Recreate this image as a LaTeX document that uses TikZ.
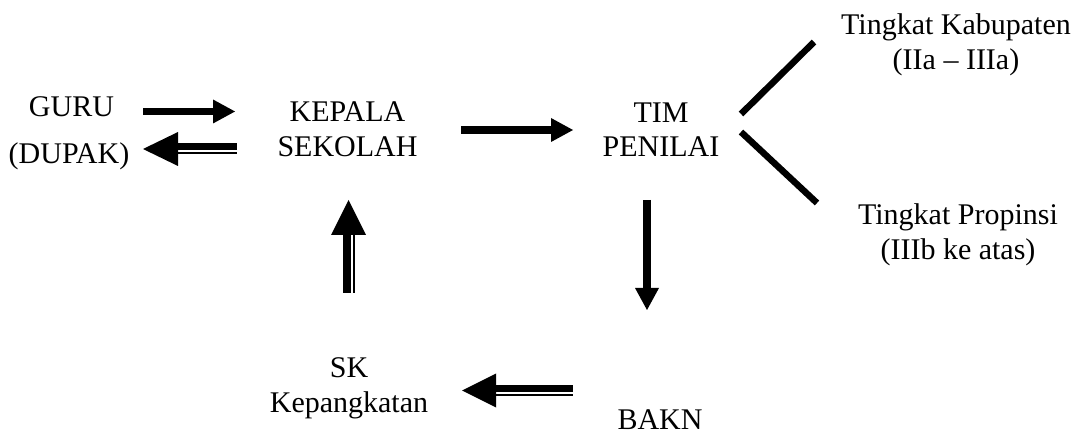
\documentclass[tikz,border=0pt]{standalone}
\usepackage{fontspec}
\setmainfont{Liberation Serif}
\usetikzlibrary{arrows.meta,calc}
\tikzset{
  lbl/.style={inner sep=0pt, anchor=base, align=center, font=\fontsize{30}{34.5}\selectfont},
  bigarrow/.style={line width=7.5pt, -{Triangle[length=22pt,width=24pt,line width=0pt]}},
  thickline/.style={line width=7pt},
  thinline/.style={line width=2pt},
  splitline/.style={line width=6.5pt},
}
\begin{document}
\begin{tikzpicture}[x=1pt,y=-1pt]
\useasboundingbox (0,0) rectangle (1084,435);
% text (base anchor = baseline of last line)
\node[lbl] (guru) at (71.5,117) {GURU};
\node[lbl] (dupak) at (69,164) {(DUPAK)};
\node[lbl] (kepala) at (347.5,156.5) {KEPALA\\SEKOLAH};
\node[lbl] (tim) at (661,157) {TIM\\PENILAI};
\node[lbl] (kab) at (956,69.5) {Tingkat Kabupaten\\(IIa -- IIIa)};
\node[lbl] (prop) at (958,259.5) {Tingkat Propinsi\\(IIIb ke atas)};
\node[lbl] (sk) at (349,412) {SK\\Kepangkatan};
\node[lbl] (bakn) at (660,429) {BAKN};
% GURU -> KEPALA
\coordinate (a1s) at (143,111.5);
\coordinate (a1e) at (235,111.5);
\draw[bigarrow] (a1s) -- (a1e);
% KEPALA -> GURU (double)
\coordinate (a2tip) at (143,149);
\coordinate (a2tail) at (237,149);
\fill (a2tip) -- ($(a2tip)+(35,-17)$) -- ($(a2tip)+(35,17)$) -- cycle;
\draw[thickline] ($(a2tip)+(34,-2.5)$) -- ($(a2tail)+(0,-2.5)$);
\draw[thinline] ($(a2tip)+(34,4)$) -- ($(a2tail)+(0,4)$);
% KEPALA -> TIM
\coordinate (a3s) at (461,130);
\coordinate (a3e) at (573,130);
\draw[bigarrow] (a3s) -- (a3e);
% TIM -> BAKN
\coordinate (a4s) at (647,200);
\coordinate (a4e) at (647,310);
\draw[bigarrow] (a4s) -- (a4e);
% BAKN -> SK (double)
\coordinate (a5tip) at (462,390.5);
\coordinate (a5tail) at (573,390.5);
\fill (a5tip) -- ($(a5tip)+(34,-17)$) -- ($(a5tip)+(34,17)$) -- cycle;
\draw[thickline] ($(a5tip)+(33,-2)$) -- ($(a5tail)+(0,-2)$);
\draw[thinline] ($(a5tip)+(33,4.3)$) -- ($(a5tail)+(0,4.3)$);
% SK -> KEPALA (double)
\coordinate (a6tip) at (348.5,200);
\coordinate (a6tail) at (348.5,293);
\fill (a6tip) -- ($(a6tip)+(-17.5,35)$) -- ($(a6tip)+(17.5,35)$) -- cycle;
\draw[line width=8pt] ($(a6tip)+(-1.5,34)$) -- ($(a6tail)+(-1.5,0)$);
\draw[thinline] ($(a6tip)+(5.5,34)$) -- ($(a6tail)+(5.5,0)$);
% split lines
\coordinate (l1s) at (741,114);
\coordinate (l1e) at (814,42);
\coordinate (l2s) at (741,132);
\coordinate (l2e) at (817,203);
\draw[splitline] (l1s) -- (l1e);
\draw[splitline] (l2s) -- (l2e);
\end{tikzpicture}
\end{document}
